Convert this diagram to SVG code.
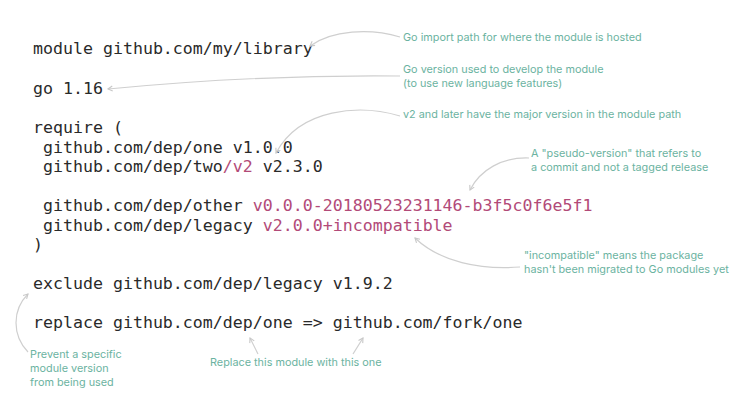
<svg xmlns="http://www.w3.org/2000/svg" width="750" height="417" viewBox="0 0 750 417">
<style>
.code{font-family:"DejaVu Sans Mono","Liberation Mono",monospace;font-size:16.6px;fill:#2a2a2a;white-space:pre}
.ver{fill:#b24a78}
.note{font-family:Inter,"Noto Sans",sans-serif;font-size:10.85px;fill:#6bb3a1}
.conn{fill:none;stroke:#cfcfcf;stroke-width:1.2}
</style>
<defs>
<marker id="ah" markerWidth="8" markerHeight="8" refX="6" refY="4" orient="auto" markerUnits="userSpaceOnUse">
<path d="M1.5,1.5 L6,4 L1.5,6.5" fill="none" stroke="#c8c8c8" stroke-width="1.1"/>
</marker>
</defs>
<rect width="750" height="417" fill="#fff"/>
<g id="code">
<text class="code" x="33" y="54">module github.com/my/library</text>
<text class="code" x="33" y="93.5">go 1.16</text>
<text class="code" x="33" y="133">require (</text>
<text class="code" x="33" y="152.5"> github.com/dep/one v1.0.0</text>
<text class="code" x="33" y="172"> github.com/dep/two<tspan class="ver">/v2</tspan> v2.3.0</text>
<text class="code" x="33" y="211"> github.com/dep/other <tspan class="ver">v0.0.0-20180523231146-b3f5c0f6e5f1</tspan></text>
<text class="code" x="33" y="230.5"> github.com/dep/legacy <tspan class="ver">v2.0.0+incompatible</tspan></text>
<text class="code" x="33" y="250">)</text>
<text class="code" x="33" y="289">exclude github.com/dep/legacy v1.9.2</text>
<text class="code" x="33" y="328">replace github.com/dep/one =&gt; github.com/fork/one</text>
</g>
<g id="connectors">
<path class="conn" marker-end="url(#ah)" d="M400,37 C370,28 332,30 310,46"/>
<path class="conn" marker-end="url(#ah)" d="M400,76 C300,75 200,80 108,89"/>
<path class="conn" marker-end="url(#ah)" d="M400,116 C360,104 300,108 276,153"/>
<path class="conn" marker-end="url(#ah)" d="M529,158 C502,157 480,170 470,190"/>
<path class="conn" marker-end="url(#ah)" d="M520,267 C480,270 440,262 415,238"/>
<path class="conn" marker-end="url(#ah)" d="M28,352 C12,335 12,310 28,294"/>
<path class="conn" marker-end="url(#ah)" d="M258,354 L250,338"/>
<path class="conn" marker-end="url(#ah)" d="M353,354 L363,338"/>
</g>
<g id="note-import"><text class="note" x="403" y="41">Go import path for where the module is hosted</text></g>
<g id="note-go"><text class="note" x="403" y="73">Go version used to develop the module</text><text class="note" x="403" y="87">(to use new language features)</text></g>
<g id="note-v2"><text class="note" x="403" y="118">v2 and later have the major version in the module path</text></g>
<g id="note-pseudo"><text class="note" x="531" y="157">A "pseudo-version" that refers to</text><text class="note" x="531" y="171">a commit and not a tagged release</text></g>
<g id="note-incompat"><text class="note" x="524" y="259">"incompatible" means the package</text><text class="note" x="524" y="273">hasn't been migrated to Go modules yet</text></g>
<g id="note-exclude"><text class="note" x="30" y="358">Prevent a specific</text><text class="note" x="30" y="372">module version</text><text class="note" x="30" y="386">from being used</text></g>
<g id="note-replace"><text class="note" x="210" y="366">Replace this module with this one</text></g>
</svg>
